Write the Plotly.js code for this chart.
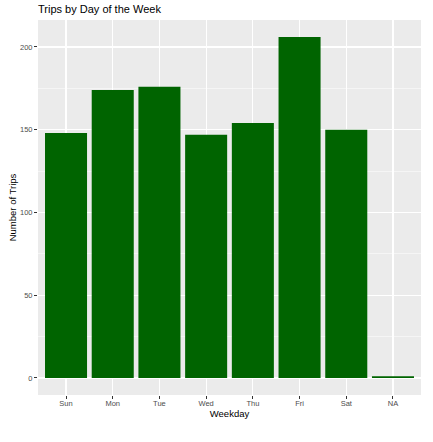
<!DOCTYPE html>
<html>
<head>
<meta charset="utf-8">
<script src="https://cdn.plot.ly/plotly-3.0.1.min.js"></script>
<style>
  html, body { margin: 0; padding: 0; background: #fff; }
  #myDiv { width: 433px; height: 442px; }
</style>
</head>
<body>
<div id="myDiv"></div>
<script>
var weekdays = ['Sun', 'Mon', 'Tue', 'Wed', 'Thu', 'Fri', 'Sat', 'NA'];
var trips = [148, 174, 176, 147, 154, 206, 150, 1];
var yTicks = [0, 50, 100, 150, 200];

var trace = {
  x: weekdays,
  y: trips,
  type: 'bar',
  width: 0.9,
  marker: { color: '#006400', line: { width: 0 } },
  hoverinfo: 'x+y'
};

var ymax = Math.max.apply(null, trips);
var pad = ymax * 0.05;

var layout = {
  width: 433,
  height: 442,
  margin: { l: 38, r: 12, t: 20, b: 47 },
  paper_bgcolor: '#ffffff',
  plot_bgcolor: '#EBEBEB',
  font: { family: 'Liberation Sans, Arial, sans-serif', color: '#000' },
  showlegend: false,
  bargap: 0.1,
  title: {
    text: 'Trips by Day of the Week',
    font: { size: 11, color: '#000' },
    x: 38 / 433, xanchor: 'left',
    y: 1 - 9 / 442, yanchor: 'middle'
  },
  xaxis: {
    type: 'category',
    range: [-0.6, weekdays.length - 0.4],
    showgrid: true,
    gridcolor: '#ffffff',
    gridwidth: 1.1,
    zeroline: false,
    showline: false,
    ticks: 'outside',
    ticklen: 3,
    tickwidth: 1,
    tickcolor: '#333333',
    ticklabelstandoff: -2,
    tickfont: { size: 7.5, color: '#4D4D4D' },
    title: { text: 'Weekday', font: { size: 9.5, color: '#000' }, standoff: 0 }
  },
  yaxis: {
    range: [-pad, ymax + pad],
    tickvals: yTicks,
    showgrid: true,
    gridcolor: '#ffffff',
    gridwidth: 1.1,
    minor: { dtick: 25, tick0: 25, showgrid: true, gridcolor: '#ffffff', gridwidth: 0.5, ticks: '' },
    zeroline: false,
    showline: false,
    ticks: 'outside',
    ticklen: 3,
    tickwidth: 1,
    tickcolor: '#333333',
    tickfont: { size: 7.5, color: '#4D4D4D' },
    title: { text: 'Number of Trips', font: { size: 9.5, color: '#000' }, standoff: 1 }
  }
};

Plotly.newPlot('myDiv', [trace], layout, { displayModeBar: false, staticPlot: true });
</script>
</body>
</html>
